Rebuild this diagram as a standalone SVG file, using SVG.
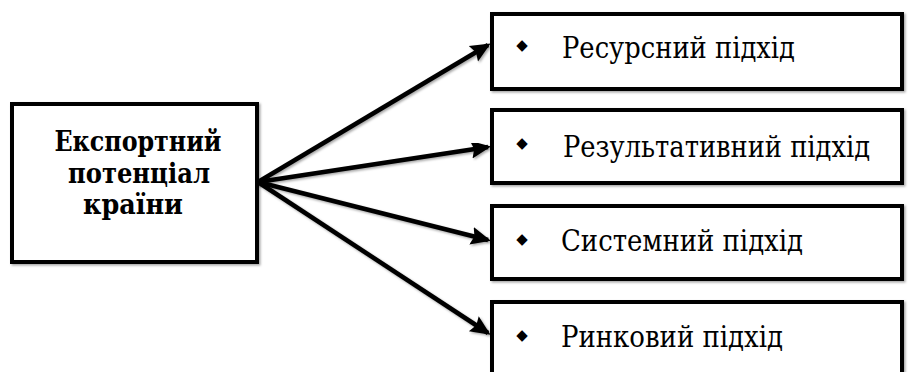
<svg xmlns="http://www.w3.org/2000/svg" width="916" height="372" viewBox="0 0 916 372">
<defs>
<style>
.box{fill:#fff;stroke:#000;stroke-width:4;filter:url(#sh)}
.t{font-family:"DejaVu Serif Condensed","DejaVu Serif",serif;font-stretch:condensed;font-size:30px;fill:#000}
.tb{font-family:"DejaVu Serif Condensed","DejaVu Serif",serif;font-stretch:condensed;font-size:27px;font-weight:bold;fill:#000;text-anchor:middle}
.bul{font-family:"DejaVu Sans",sans-serif;font-size:15px;fill:#000;text-anchor:middle}
.c{stroke:#000;stroke-width:4.5;fill:none;marker-end:url(#ah);filter:url(#sh)}
</style>
<filter id="sh" x="-10%" y="-10%" width="130%" height="130%">
<feDropShadow dx="1.5" dy="1.5" stdDeviation="1.2" flood-color="#000" flood-opacity="0.35"/>
</filter>
<marker id="ah" markerWidth="22" markerHeight="22" refX="17" refY="11" orient="auto" markerUnits="userSpaceOnUse">
<path d="M0,2 L20,11 L0,20 L3,11 Z" fill="#000"/>
</marker>
</defs>
<g id="connectors">
<line class="c" x1="258" y1="182" x2="488" y2="45"/>
<line class="c" x1="258" y1="182" x2="488" y2="147"/>
<line class="c" x1="258" y1="182" x2="488" y2="240"/>
<line class="c" x1="258" y1="182" x2="488" y2="333"/>
</g>
<g id="source">
<rect class="box" x="12" y="104" width="245" height="158"/>
<text class="tb" x="138" y="151" textLength="167" lengthAdjust="spacingAndGlyphs">Експортний</text>
<text class="tb" x="139" y="183" textLength="142" lengthAdjust="spacingAndGlyphs">потенціал</text>
<text class="tb" x="133" y="214" textLength="100" lengthAdjust="spacingAndGlyphs">країни</text>
</g>
<g id="resource">
<rect class="box" x="492" y="14" width="410" height="75"/>
<text class="bul" x="522" y="50">◆</text>
<text class="t" x="562" y="58" textLength="233" lengthAdjust="spacingAndGlyphs">Ресурсний підхід</text>
</g>
<g id="result">
<rect class="box" x="492" y="110" width="410" height="73"/>
<text class="bul" x="522" y="148">◆</text>
<text class="t" x="563" y="157" textLength="307" lengthAdjust="spacingAndGlyphs">Результативний підхід</text>
</g>
<g id="system">
<rect class="box" x="492" y="206" width="410" height="73"/>
<text class="bul" x="522" y="244">◆</text>
<text class="t" x="561" y="251" textLength="242" lengthAdjust="spacingAndGlyphs">Системний підхід</text>
</g>
<g id="market">
<rect class="box" x="492" y="302" width="410" height="80"/>
<text class="bul" x="522" y="340">◆</text>
<text class="t" x="561" y="347" textLength="222" lengthAdjust="spacingAndGlyphs">Ринковий підхід</text>
</g>
</svg>
